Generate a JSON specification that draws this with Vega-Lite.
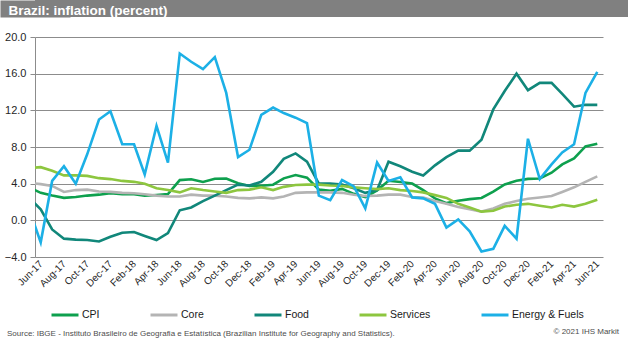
{
  "$schema": "https://vega.github.io/schema/vega-lite/v6.json",
  "background": "white",
  "padding": 0,
  "columns": 1,
  "align": "none",
  "spacing": 14,
  "config": {"font": "Liberation Sans", "view": {"stroke": null}},
  "title": {"text": "© 2021 IHS Markit", "orient": "bottom", "anchor": "end", "frame": "bounds", "offset": -10, "dx": -9, "fontSize": 8, "fontWeight": "normal", "color": "#4d4d4d"},
  "datasets": {
    "inflation": [
      {"month": "2017-05-16", "CPI": 3.6, "Core": 4.1, "Food": 2.5, "Services": 5.7, "Energy & Fuels": 1.3},
      {"month": "2017-06-16", "CPI": 3.0, "Core": 3.95, "Food": 1.2, "Services": 5.8, "Energy & Fuels": -2.4},
      {"month": "2017-07-16", "CPI": 2.7, "Core": 3.75, "Food": -1.0, "Services": 5.4, "Energy & Fuels": 4.3},
      {"month": "2017-08-16", "CPI": 2.45, "Core": 3.1, "Food": -2.0, "Services": 4.9, "Energy & Fuels": 5.9},
      {"month": "2017-09-16", "CPI": 2.55, "Core": 3.3, "Food": -2.1, "Services": 4.9, "Energy & Fuels": 4.0},
      {"month": "2017-10-16", "CPI": 2.7, "Core": 3.35, "Food": -2.15, "Services": 4.85, "Energy & Fuels": 7.2},
      {"month": "2017-11-16", "CPI": 2.8, "Core": 3.15, "Food": -2.3, "Services": 4.6, "Energy & Fuels": 11.0},
      {"month": "2017-12-16", "CPI": 2.95, "Core": 3.1, "Food": -1.8, "Services": 4.5, "Energy & Fuels": 11.9},
      {"month": "2018-01-16", "CPI": 2.86, "Core": 3.0, "Food": -1.35, "Services": 4.3, "Energy & Fuels": 8.3},
      {"month": "2018-02-16", "CPI": 2.84, "Core": 2.95, "Food": -1.27, "Services": 4.2, "Energy & Fuels": 8.3},
      {"month": "2018-03-16", "CPI": 2.68, "Core": 2.85, "Food": -1.7, "Services": 4.0, "Energy & Fuels": 5.0},
      {"month": "2018-04-16", "CPI": 2.76, "Core": 2.7, "Food": -2.15, "Services": 3.5, "Energy & Fuels": 10.3},
      {"month": "2018-05-16", "CPI": 2.86, "Core": 2.6, "Food": -1.4, "Services": 3.3, "Energy & Fuels": 6.3},
      {"month": "2018-06-16", "CPI": 4.39, "Core": 2.6, "Food": 1.1, "Services": 3.05, "Energy & Fuels": 18.2},
      {"month": "2018-07-16", "CPI": 4.48, "Core": 2.8, "Food": 1.4, "Services": 3.5, "Energy & Fuels": 17.3},
      {"month": "2018-08-16", "CPI": 4.19, "Core": 2.7, "Food": 2.1, "Services": 3.3, "Energy & Fuels": 16.5},
      {"month": "2018-09-16", "CPI": 4.53, "Core": 2.7, "Food": 2.7, "Services": 3.15, "Energy & Fuels": 17.8},
      {"month": "2018-10-16", "CPI": 4.56, "Core": 2.6, "Food": 3.3, "Services": 3.0, "Energy & Fuels": 13.9},
      {"month": "2018-11-16", "CPI": 4.05, "Core": 2.45, "Food": 3.9, "Services": 3.3, "Energy & Fuels": 6.9},
      {"month": "2018-12-16", "CPI": 3.75, "Core": 2.4, "Food": 3.8, "Services": 3.35, "Energy & Fuels": 7.7},
      {"month": "2019-01-16", "CPI": 3.78, "Core": 2.5, "Food": 4.2, "Services": 3.6, "Energy & Fuels": 11.5},
      {"month": "2019-02-16", "CPI": 3.89, "Core": 2.4, "Food": 5.3, "Services": 3.3, "Energy & Fuels": 12.3},
      {"month": "2019-03-16", "CPI": 4.58, "Core": 2.6, "Food": 6.7, "Services": 3.65, "Energy & Fuels": 11.7},
      {"month": "2019-04-16", "CPI": 4.94, "Core": 3.0, "Food": 7.3, "Services": 3.85, "Energy & Fuels": 11.2},
      {"month": "2019-05-16", "CPI": 4.66, "Core": 3.05, "Food": 6.4, "Services": 3.9, "Energy & Fuels": 10.6},
      {"month": "2019-06-16", "CPI": 3.37, "Core": 3.05, "Food": 4.0, "Services": 3.9, "Energy & Fuels": 2.7},
      {"month": "2019-07-16", "CPI": 3.22, "Core": 3.05, "Food": 4.0, "Services": 3.8, "Energy & Fuels": 2.2},
      {"month": "2019-08-16", "CPI": 3.43, "Core": 3.0, "Food": 3.9, "Services": 3.75, "Energy & Fuels": 4.4},
      {"month": "2019-09-16", "CPI": 2.89, "Core": 2.8, "Food": 3.5, "Services": 3.6, "Energy & Fuels": 3.7},
      {"month": "2019-10-16", "CPI": 2.54, "Core": 2.65, "Food": 3.0, "Services": 3.5, "Energy & Fuels": 1.3},
      {"month": "2019-11-16", "CPI": 3.27, "Core": 2.7, "Food": 3.3, "Services": 3.4, "Energy & Fuels": 6.3},
      {"month": "2019-12-16", "CPI": 4.31, "Core": 2.8, "Food": 6.4, "Services": 3.5, "Energy & Fuels": 4.3},
      {"month": "2020-01-16", "CPI": 4.19, "Core": 2.8, "Food": 5.9, "Services": 3.3, "Energy & Fuels": 4.7},
      {"month": "2020-02-16", "CPI": 4.01, "Core": 2.55, "Food": 5.3, "Services": 3.2, "Energy & Fuels": 2.5},
      {"month": "2020-03-16", "CPI": 3.3, "Core": 2.5, "Food": 4.9, "Services": 3.05, "Energy & Fuels": 2.4},
      {"month": "2020-04-16", "CPI": 2.4, "Core": 2.1, "Food": 6.0, "Services": 2.75, "Energy & Fuels": 1.8},
      {"month": "2020-05-16", "CPI": 1.88, "Core": 1.8, "Food": 6.9, "Services": 2.45, "Energy & Fuels": -0.8},
      {"month": "2020-06-16", "CPI": 2.13, "Core": 1.45, "Food": 7.6, "Services": 1.8, "Energy & Fuels": 0.1},
      {"month": "2020-07-16", "CPI": 2.31, "Core": 1.2, "Food": 7.6, "Services": 1.4, "Energy & Fuels": -1.2},
      {"month": "2020-08-16", "CPI": 2.44, "Core": 0.95, "Food": 8.8, "Services": 0.95, "Energy & Fuels": -3.4},
      {"month": "2020-09-16", "CPI": 3.14, "Core": 1.3, "Food": 12.1, "Services": 1.05, "Energy & Fuels": -3.1},
      {"month": "2020-10-16", "CPI": 3.92, "Core": 1.8, "Food": 14.1, "Services": 1.5, "Energy & Fuels": -0.6},
      {"month": "2020-11-16", "CPI": 4.31, "Core": 2.1, "Food": 16.0, "Services": 1.7, "Energy & Fuels": -2.0},
      {"month": "2020-12-16", "CPI": 4.52, "Core": 2.35, "Food": 14.2, "Services": 1.8, "Energy & Fuels": 8.9},
      {"month": "2021-01-16", "CPI": 4.56, "Core": 2.5, "Food": 15.0, "Services": 1.6, "Energy & Fuels": 4.5},
      {"month": "2021-02-16", "CPI": 5.2, "Core": 2.65, "Food": 15.0, "Services": 1.4, "Energy & Fuels": 6.1},
      {"month": "2021-03-16", "CPI": 6.1, "Core": 3.1, "Food": 13.8, "Services": 1.7, "Energy & Fuels": 7.4},
      {"month": "2021-04-16", "CPI": 6.76, "Core": 3.6, "Food": 12.4, "Services": 1.5, "Energy & Fuels": 8.3},
      {"month": "2021-05-16", "CPI": 8.06, "Core": 4.2, "Food": 12.6, "Services": 1.8, "Energy & Fuels": 13.9},
      {"month": "2021-06-16", "CPI": 8.35, "Core": 4.8, "Food": 12.6, "Services": 2.25, "Energy & Fuels": 16.2}
    ]
  },
  "concat": [
    {
      "width": 593,
      "height": 17,
      "view": {"fill": "#808080", "stroke": null},
      "data": {"values": [{"bar": "header", "lo": 0, "hi": 1}]},
      "mark": {"type": "rect", "color": "#808080"},
      "encoding": {
        "y": {
          "field": "lo", "type": "quantitative", "scale": {"domain": [0, 1]},
          "axis": {
            "orient": "left", "zindex": 1, "labels": false, "ticks": false, "grid": false,
            "domain": true, "domainWidth": 70, "domainColor": "#808080",
            "title": "Brazil: inflation (percent)", "titleAngle": 0, "titleX": -27, "titleY": 14.5, "titleAlign": "left", "titleBaseline": "alphabetic",
            "titleColor": "white", "titleFontSize": 13.5, "titleFontWeight": "bold", "titleFont": "Liberation Sans"
          }
        },
        "y2": {"field": "hi"}
      }
    },
    {
      "width": 568,
      "height": 220,
      "data": {"name": "inflation"},
      "transform": [{"fold": ["CPI", "Core", "Food", "Services", "Energy & Fuels"], "as": ["series", "value"]}],
      "mark": {"type": "line", "strokeWidth": 2.6, "clip": true},
      "title": {"text": "Source:  IBGE - Instituto Brasileiro de Geografia e Estatística (Brazilian Institute for Geography and Statistics).", "orient": "bottom", "anchor": "start", "frame": "bounds", "dx": 7, "offset": 42, "fontSize": 8, "fontWeight": "normal", "color": "#4d4d4d", "font": "Liberation Sans"},
      "encoding": {
        "x": {
          "field": "month", "type": "temporal",
          "scale": {"domain": [{"year": 2017, "month": 6, "date": 1}, {"year": 2021, "month": 7, "date": 1}]},
          "axis": {
            "title": null, "grid": false, "ticks": false, "domain": false,
            "values": [
              {"year": 2017, "month": 6, "date": 16}, {"year": 2017, "month": 8, "date": 16}, {"year": 2017, "month": 10, "date": 16}, {"year": 2017, "month": 12, "date": 16},
              {"year": 2018, "month": 2, "date": 16}, {"year": 2018, "month": 4, "date": 16}, {"year": 2018, "month": 6, "date": 16}, {"year": 2018, "month": 8, "date": 16}, {"year": 2018, "month": 10, "date": 16}, {"year": 2018, "month": 12, "date": 16},
              {"year": 2019, "month": 2, "date": 16}, {"year": 2019, "month": 4, "date": 16}, {"year": 2019, "month": 6, "date": 16}, {"year": 2019, "month": 8, "date": 16}, {"year": 2019, "month": 10, "date": 16}, {"year": 2019, "month": 12, "date": 16},
              {"year": 2020, "month": 2, "date": 16}, {"year": 2020, "month": 4, "date": 16}, {"year": 2020, "month": 6, "date": 16}, {"year": 2020, "month": 8, "date": 16}, {"year": 2020, "month": 10, "date": 16}, {"year": 2020, "month": 12, "date": 16},
              {"year": 2021, "month": 2, "date": 16}, {"year": 2021, "month": 4, "date": 16}, {"year": 2021, "month": 6, "date": 16}
            ],
            "format": "%b-%y", "labelAngle": -45, "labelAlign": "right", "labelBaseline": "middle",
            "labelPadding": 5, "labelFontSize": 10, "labelColor": "#262626", "labelOverlap": false, "labelFlush": false, "labelBound": false, "labelFont": "Liberation Sans"
          }
        },
        "y": {
          "field": "value", "type": "quantitative",
          "scale": {"domain": [-4, 20], "nice": false, "zero": false},
          "axis": {
            "title": null, "values": [-4, 0, 4, 8, 12, 16, 20], "format": ".1f",
            "grid": true, "gridColor": "#8c8c8c", "domainColor": "#8c8c8c", "tickColor": "#8c8c8c", "tickSize": 5,
            "labelPadding": 4, "labelFontSize": 11, "labelColor": "#262626", "minExtent": 35, "labelFont": "Liberation Sans"
          }
        },
        "color": {
          "field": "series", "type": "nominal",
          "scale": {"domain": ["CPI", "Core", "Food", "Services", "Energy & Fuels"], "range": ["#0ea04e", "#b4b4b4", "#11877a", "#8dc63f", "#1cb0e6"]},
          "legend": {
            "title": null, "orient": "none", "legendX": 15, "legendY": 300, "direction": "horizontal", "columns": 5,
            "columnPadding": 44, "symbolType": "stroke", "symbolSize": 729, "symbolStrokeWidth": 3, "labelFontSize": 10.5, "labelOffset": 2,
            "labelColor": "#1a1a1a", "labelFont": "Liberation Sans"
          }
        }
      }
    }
  ]
}
